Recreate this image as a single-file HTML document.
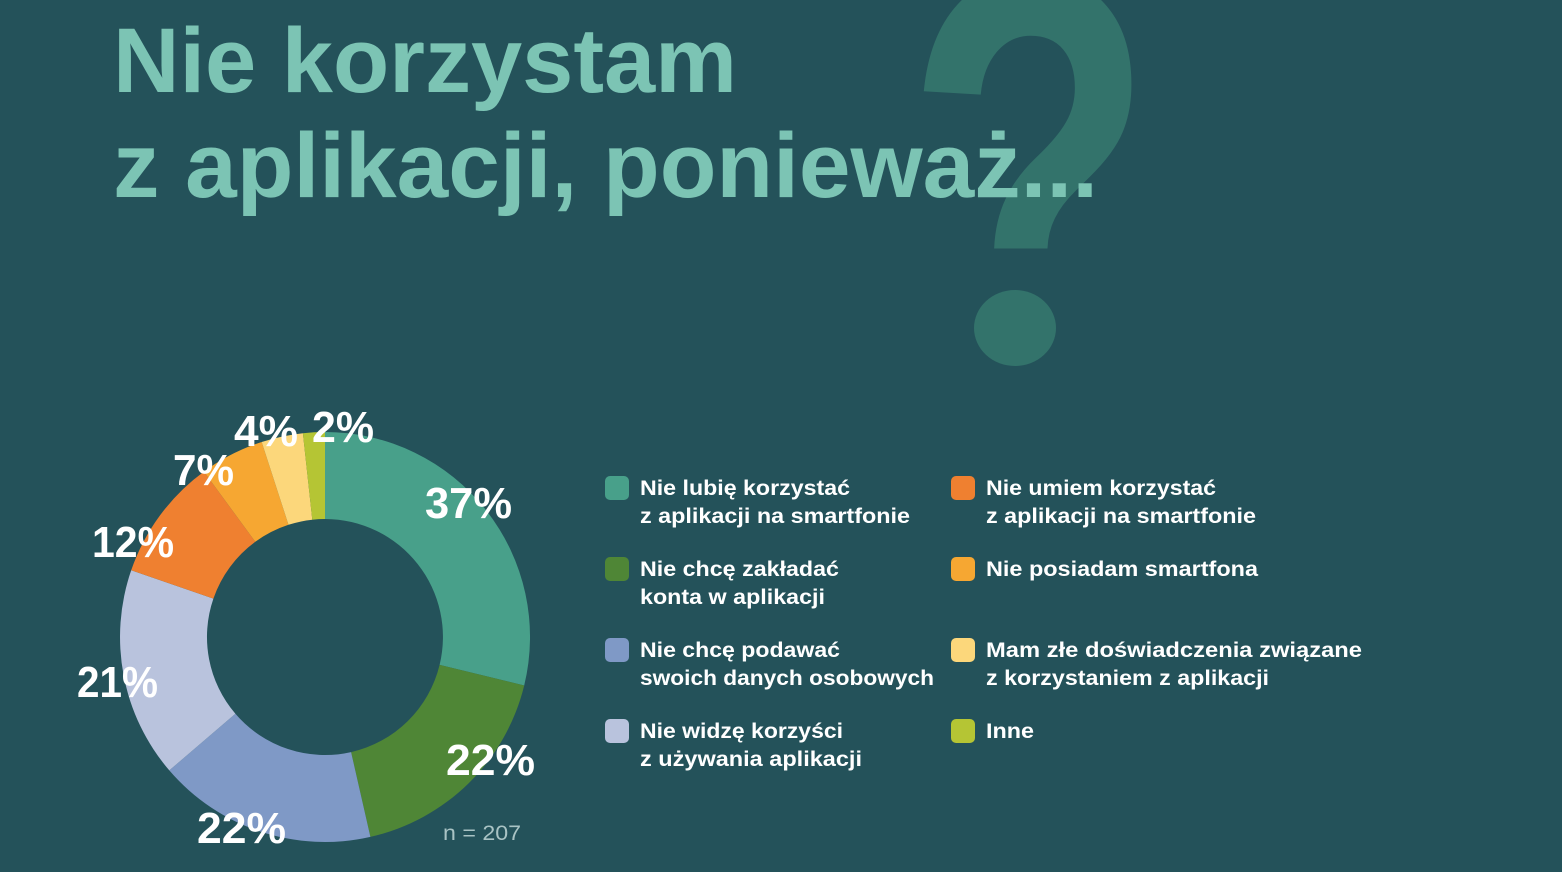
<!DOCTYPE html>
<html><head><meta charset="utf-8"><style>
html,body{margin:0;padding:0;background:#24525a;}
svg{display:block}
</style></head><body>
<svg width="1562" height="872" viewBox="0 0 1562 872" xmlns="http://www.w3.org/2000/svg">
<rect width="1562" height="872" fill="#24525a"/>
<text x="905" y="365" font-family="Liberation Sans, sans-serif" font-weight="bold" font-size="560" fill="#33736b" textLength="250" lengthAdjust="spacingAndGlyphs">?</text>
<rect x="980" y="270" width="80" height="100" fill="#24525a"/>
<ellipse cx="1015" cy="328" rx="41" ry="38" fill="#33736b"/>
<g font-family="Liberation Sans, sans-serif" font-weight="bold" fill="#7cc4b4" font-size="92">
<text x="113" y="92" textLength="624" lengthAdjust="spacingAndGlyphs">Nie korzystam</text>
<text x="113" y="197" textLength="985" lengthAdjust="spacingAndGlyphs">z aplikacji, ponieważ...</text>
</g>
<g stroke="none">
<path d="M325,432 A205,205 0 0 1 524.2,685.5 L439.6,664.9 A118,118 0 0 0 325,519 Z" fill="#48a08a"/>
<path d="M524.2,685.5 A205,205 0 0 1 370.4,836.9 L351.1,752.1 A118,118 0 0 0 439.6,664.9 Z" fill="#4f8636"/>
<path d="M370.4,836.9 A205,205 0 0 1 169.3,770.4 L235.4,713.8 A118,118 0 0 0 351.1,752.1 Z" fill="#7f99c6"/>
<path d="M169.3,770.4 A205,205 0 0 1 131.2,570.3 L213.4,598.6 A118,118 0 0 0 235.4,713.8 Z" fill="#b9c3dd"/>
<path d="M131.2,570.3 A205,205 0 0 1 203.9,471.6 L255.3,541.8 A118,118 0 0 0 213.4,598.6 Z" fill="#ef8030"/>
<path d="M203.9,471.6 A205,205 0 0 1 261.7,442 L288.5,524.8 A118,118 0 0 0 255.3,541.8 Z" fill="#f6a732"/>
<path d="M261.7,442 A205,205 0 0 1 302.9,433.2 L312.3,519.7 A118,118 0 0 0 288.5,524.8 Z" fill="#fcd77b"/>
<path d="M302.9,433.2 A205,205 0 0 1 325,432 L325,519 A118,118 0 0 0 312.3,519.7 Z" fill="#b5c534"/>
</g>
<g font-family="Liberation Sans, sans-serif" font-weight="bold" fill="#ffffff" font-size="44">
<text x="425" y="518" textLength="87" lengthAdjust="spacingAndGlyphs">37%</text>
<text x="446" y="775" textLength="89" lengthAdjust="spacingAndGlyphs">22%</text>
<text x="197" y="843" textLength="89" lengthAdjust="spacingAndGlyphs">22%</text>
<text x="77" y="697" textLength="81" lengthAdjust="spacingAndGlyphs">21%</text>
<text x="92" y="557" textLength="82" lengthAdjust="spacingAndGlyphs">12%</text>
<text x="173" y="485" textLength="61" lengthAdjust="spacingAndGlyphs">7%</text>
<text x="234" y="446" textLength="64" lengthAdjust="spacingAndGlyphs">4%</text>
<text x="312" y="442" textLength="62" lengthAdjust="spacingAndGlyphs">2%</text>
</g>
<g>
<rect x="605" y="476" width="24" height="24" rx="5" fill="#48a08a"/>
<rect x="605" y="557" width="24" height="24" rx="5" fill="#4f8636"/>
<rect x="605" y="638" width="24" height="24" rx="5" fill="#7f99c6"/>
<rect x="605" y="719" width="24" height="24" rx="5" fill="#b9c3dd"/>
<rect x="951" y="476" width="24" height="24" rx="5" fill="#ef8030"/>
<rect x="951" y="557" width="24" height="24" rx="5" fill="#f6a732"/>
<rect x="951" y="638" width="24" height="24" rx="5" fill="#fcd77b"/>
<rect x="951" y="719" width="24" height="24" rx="5" fill="#b5c534"/>
</g>
<g font-family="Liberation Sans, sans-serif" font-weight="bold" fill="#ffffff" font-size="21">
<text x="640" y="495" textLength="210" lengthAdjust="spacingAndGlyphs">Nie lubię korzystać</text>
<text x="640" y="523" textLength="270" lengthAdjust="spacingAndGlyphs">z aplikacji na smartfonie</text>
<text x="640" y="576" textLength="199" lengthAdjust="spacingAndGlyphs">Nie chcę zakładać</text>
<text x="640" y="604" textLength="185" lengthAdjust="spacingAndGlyphs">konta w aplikacji</text>
<text x="640" y="657" textLength="200" lengthAdjust="spacingAndGlyphs">Nie chcę podawać</text>
<text x="640" y="685" textLength="294" lengthAdjust="spacingAndGlyphs">swoich danych osobowych</text>
<text x="640" y="738" textLength="203" lengthAdjust="spacingAndGlyphs">Nie widzę korzyści</text>
<text x="640" y="766" textLength="222" lengthAdjust="spacingAndGlyphs">z używania aplikacji</text>
<text x="986" y="495" textLength="230" lengthAdjust="spacingAndGlyphs">Nie umiem korzystać</text>
<text x="986" y="523" textLength="270" lengthAdjust="spacingAndGlyphs">z aplikacji na smartfonie</text>
<text x="986" y="576" textLength="272" lengthAdjust="spacingAndGlyphs">Nie posiadam smartfona</text>
<text x="986" y="657" textLength="376" lengthAdjust="spacingAndGlyphs">Mam złe doświadczenia związane</text>
<text x="986" y="685" textLength="283" lengthAdjust="spacingAndGlyphs">z korzystaniem z aplikacji</text>
<text x="986" y="738" textLength="48" lengthAdjust="spacingAndGlyphs">Inne</text>
</g>
<text x="443" y="840" font-family="Liberation Sans, sans-serif" font-size="21" fill="#a9c3c4" textLength="78" lengthAdjust="spacingAndGlyphs">n = 207</text>
</svg>
</body></html>
